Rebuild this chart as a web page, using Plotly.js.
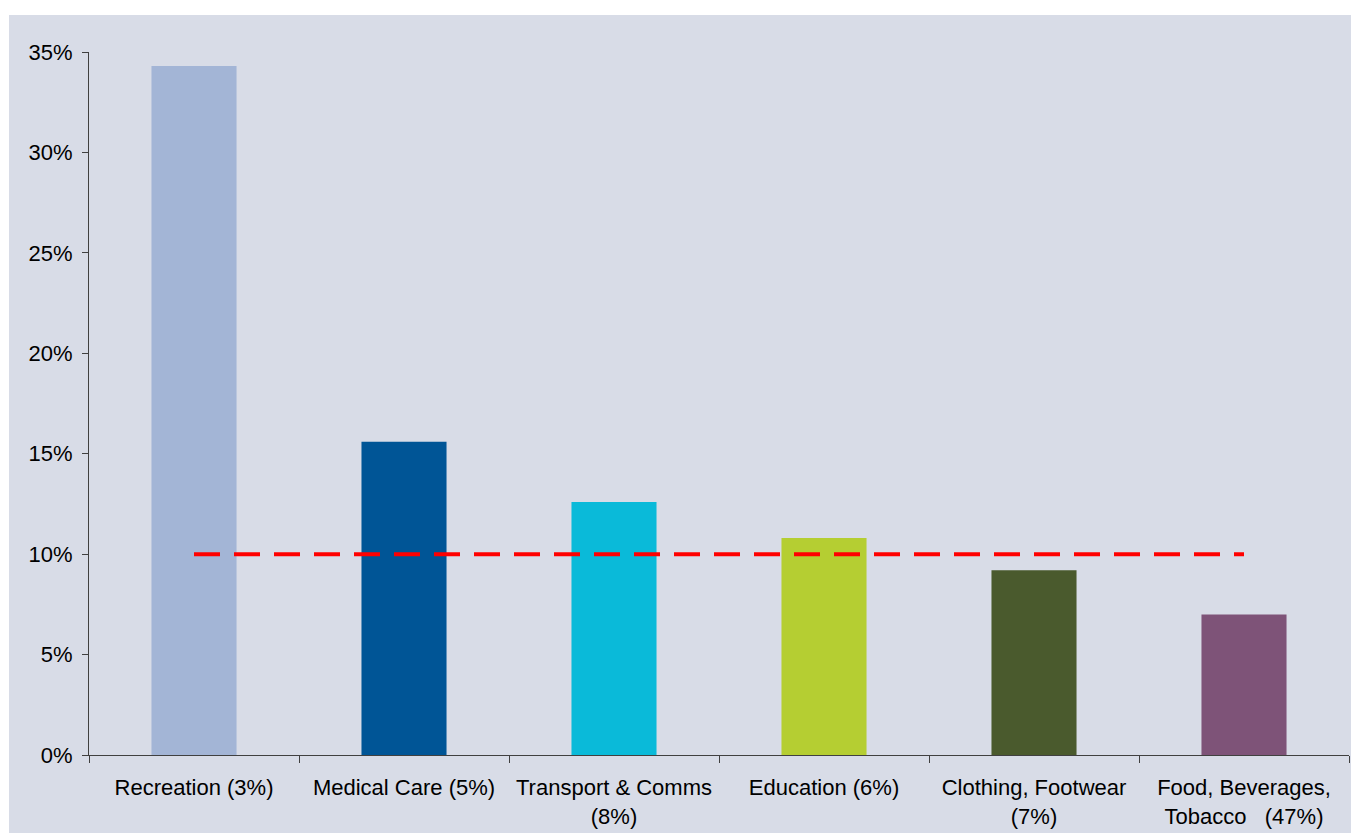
<!DOCTYPE html>
<html>
<head>
<meta charset="utf-8">
<script src="https://cdn.plot.ly/plotly-3.0.1.min.js"></script>
<style>
html, body { margin: 0; padding: 0; background: #ffffff; }
#chart { position: absolute; left: 9px; top: 15px; width: 1342px; height: 818px; }
</style>
</head>
<body>
<div id="chart"></div>
<script>
const categories = [
  "Recreation (3%)",
  "Medical Care (5%)",
  "Transport & Comms<br>(8%)",
  "Education (6%)",
  "Clothing, Footwear<br>(7%)",
  "Food, Beverages,<br>Tobacco\u00a0\u00a0\u00a0(47%)"
];
const values = [34.3, 15.6, 12.6, 10.8, 9.2, 7.0];
const barColors = ["#A3B5D6", "#005596", "#0ABAD9", "#B5CE32", "#4A5A2D", "#7E5378"];
const threshold = [10, 10, 10, 10, 10, 10];
const yTickVals = [0, 5, 10, 15, 20, 25, 30, 35];
const yTickText = ["0%", "5%", "10%", "15%", "20%", "25%", "30%", "35%"];

const traces = [
  {
    type: "bar",
    x: categories,
    y: values,
    marker: { color: barColors, line: { width: 0 } },
    hoverinfo: "x+y",
    showlegend: false
  },
  {
    type: "scatter",
    mode: "lines",
    x: categories,
    y: threshold,
    line: { color: "#FF0000", width: 4, dash: "26px,14px" },
    showlegend: false,
    hoverinfo: "skip"
  }
];

const layout = {
  width: 1342,
  height: 818,
  paper_bgcolor: "#D8DCE7",
  plot_bgcolor: "#D8DCE7",
  margin: { l: 80, r: 2, t: 37, b: 78 },
  font: { family: "Liberation Sans, Arial, sans-serif", size: 22, color: "#000000" },
  bargap: 0.595,
  showlegend: false,
  xaxis: {
    type: "category",
    tickson: "boundaries",
    ticks: "outside",
    ticklen: 7,
    tickcolor: "#404040",
    showline: true,
    linecolor: "#404040",
    linewidth: 1,
    showgrid: false,
    zeroline: false,
    automargin: false,
    ticklabelstandoff: 13,
    tickfont: { size: 22, color: "#000000" },
    fixedrange: true
  },
  yaxis: {
    range: [0, 35],
    tickvals: yTickVals,
    ticktext: yTickText,
    ticks: "outside",
    ticklen: 6,
    tickcolor: "#404040",
    showline: true,
    linecolor: "#404040",
    linewidth: 1,
    showgrid: false,
    zeroline: false,
    automargin: false,
    ticklabelstandoff: 5,
    tickfont: { size: 22, color: "#000000" },
    fixedrange: true
  }
};

Plotly.newPlot("chart", traces, layout, { displayModeBar: false });
</script>
</body>
</html>
